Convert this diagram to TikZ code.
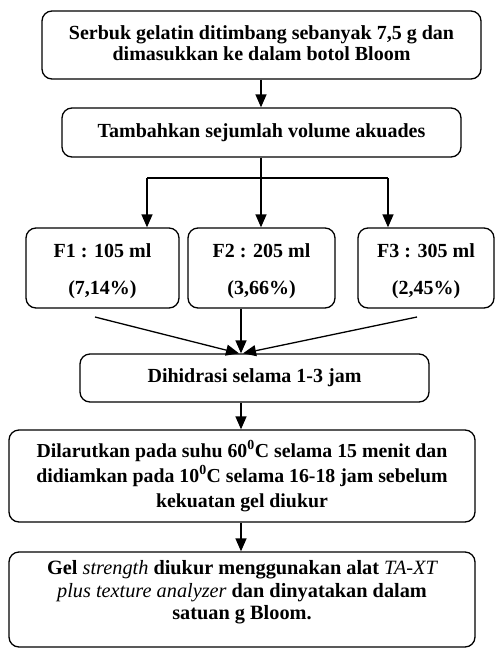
\documentclass[tikz,border=0pt]{standalone}
\usepackage{fontspec}
\setmainfont{Liberation Serif}
\usetikzlibrary{arrows.meta}
\newcommand{\myit}[1]{{\mdseries\itshape #1}}
\begin{document}
\begin{tikzpicture}[x=1pt,y=-1pt,
  box/.style={draw, line width=1.3pt, rounded corners=10pt, align=center, inner sep=0pt,
    font=\bfseries\fontsize{20}{21}\selectfont},
  txt/.style={align=center, inner sep=0pt, font=\bfseries\fontsize{20}{21}\selectfont},
  arr/.style={line width=1.3pt, -{Triangle[width=11pt,length=13pt]}},
  ln/.style={line width=1.3pt}]
\useasboundingbox (0,0) rectangle (495,649);
\node[box, minimum width=439pt, minimum height=68pt] (b1) at (261.5,45) {};
\node[txt] (b1t) at (261.5,43.5)
  {Serbuk gelatin ditimbang sebanyak 7,5 g dan\\dimasukkan ke dalam botol Bloom};
\node[box, minimum width=399pt, minimum height=49pt] (b2) at (261.5,132.5)
  {Tambahkan sejumlah volume akuades};
\node[box, minimum width=153pt, minimum height=80pt] (f1) at (102.5,268) {};
\node[box, minimum width=147pt, minimum height=80pt] (f2) at (261.5,268) {};
\node[box, minimum width=136pt, minimum height=80pt] (f3) at (426,268) {};
\node[txt, font=\bfseries\fontsize{20}{37}\selectfont] (f1t) at (102.5,271) {F1 : 105 ml\\(7,14\%)};
\node[txt, font=\bfseries\fontsize{20}{37}\selectfont] (f2t) at (261.5,271) {F2 : 205 ml\\(3,66\%)};
\node[txt, font=\bfseries\fontsize{20}{37}\selectfont] (f3t) at (426,271) {F3 : 305 ml\\(2,45\%)};
\node[box, minimum width=349pt, minimum height=48pt] (dh) at (254.5,378)
  {Dihidrasi selama 1-3 jam};
\node[box, minimum width=466pt, minimum height=92pt, font=\bfseries\fontsize{19.8}{25}\selectfont] (dl) at (242,476)
  {Dilarutkan pada suhu 60\textsuperscript{0}C selama 15 menit dan\\didiamkan pada 10\textsuperscript{0}C selama 16-18 jam sebelum\\kekuatan gel diukur};
\node[box, minimum width=466pt, minimum height=95pt] (gl) at (242,599.5) {};
\node[txt, font=\bfseries\fontsize{20.3}{22.5}\selectfont] (glt) at (242,592.5)
  {Gel \myit{strength} diukur menggunakan alat \myit{TA-XT}\\\myit{plus texture analyzer} dan dinyatakan dalam\\satuan g Bloom.};
% connectors
\coordinate (x1) at (147,0);
\coordinate (x2) at (261,0);
\coordinate (x3) at (388,0);
\coordinate (split) at (261,178);
\coordinate (l1) at (95,317);
\coordinate (l3) at (417,317);
\coordinate (xa) at (241,0);
\draw[arr] (b1.south -| x2) -- (b2.north -| x2);
\draw[ln] (b2.south -| x2) -- (split);
\draw[ln] (split -| x1) -- (split -| x3);
\draw[arr] (split -| x1) -- (f1.north -| x1);
\draw[arr] (split) -- (f2.north -| x2);
\draw[arr] (split -| x3) -- (f3.north -| x3);
\draw[arr] (l1) -- ([xshift=-2pt]dh.north -| xa);
\draw[arr] (f2.south -| xa) -- (dh.north -| xa);
\draw[arr] (l3) -- ([xshift=2pt]dh.north -| xa);
\draw[arr] (dh.south -| xa) -- (dl.north -| xa);
\draw[arr] (dl.south -| xa) -- (gl.north -| xa);
\end{tikzpicture}
\end{document}
